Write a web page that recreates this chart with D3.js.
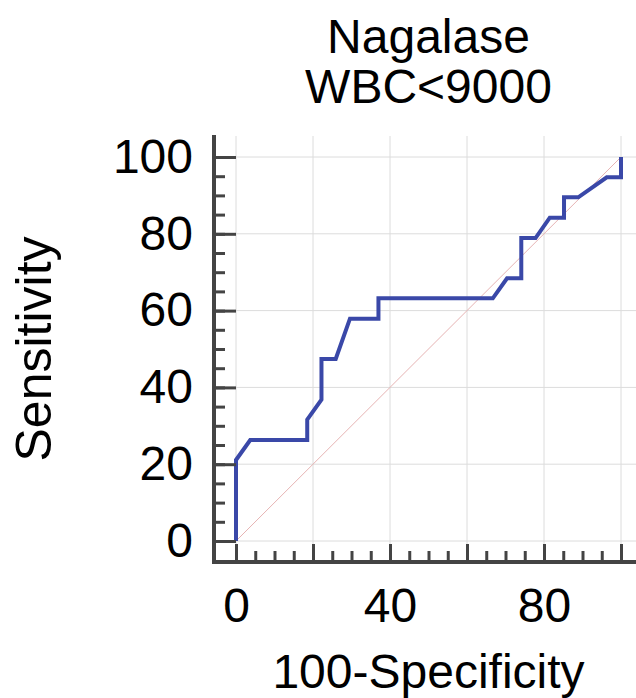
<!DOCTYPE html>
<html>
<head>
<meta charset="utf-8">
<script src="https://cdn.jsdelivr.net/npm/d3@7"></script>
<style>
  html, body { margin: 0; padding: 0; background: #fff; }
  svg { display: block; font-family: "Liberation Sans", Arial, sans-serif; }
</style>
</head>
<body>
<div id="chart"></div>
<script>
// ROC curve, Nagalase (WBC<9000)
const titleLines = ["Nagalase", "WBC<9000"];
const xLabel = "100-Specificity";
const yLabel = "Sensitivity";

// 100-specificity and sensitivity
const fpr = [0, 0, 3.7, 18.5, 18.5, 22.2, 22.2, 25.9, 29.6, 37.0, 37.0, 66.7, 70.4, 74.1, 74.1, 77.8, 81.5, 85.2, 85.2, 88.9, 96.3, 100, 100];
const sens = [0, 21.1, 26.3, 26.3, 31.6, 36.8, 47.4, 47.4, 57.9, 57.9, 63.2, 63.2, 68.4, 68.4, 78.9, 78.9, 84.2, 84.2, 89.5, 89.5, 94.7, 94.7, 100];

const majorTicks = [0, 20, 40, 60, 80, 100];
const minorTicks = d3.range(0, 101, 5);
const xTickLabels = [0, 40, 80];
const yTickLabels = [0, 20, 40, 60, 80, 100];

(function () {
  const WIDTH = 636, HEIGHT = 698;
  const AXIS_COLOR = "#444";
  const LINE_COLOR = "#3a48a8";
  const GRID_COLOR = "#dcdcdc";
  const DIAG_COLOR = "#e6b3b3";

  const yAxisX = 214;
  const xAxisY = 562;

  const x = d3.scaleLinear().domain([0, 100]).range([236, 621]);
  const y = d3.scaleLinear().domain([0, 100]).range([541, 157]);

  const svg = d3.select("#chart").append("svg")
    .attr("width", WIDTH)
    .attr("height", HEIGHT);

  // grid
  const grid = svg.append("g").attr("class", "grid");
  grid.selectAll(".vgrid").data(majorTicks).enter().append("line")
    .attr("x1", (d) => x(d)).attr("x2", (d) => x(d))
    .attr("y1", 136).attr("y2", xAxisY)
    .attr("stroke", GRID_COLOR).attr("stroke-width", 1);
  grid.selectAll(".hgrid").data(majorTicks).enter().append("line")
    .attr("x1", x(0)).attr("x2", WIDTH)
    .attr("y1", (d) => y(d)).attr("y2", (d) => y(d))
    .attr("stroke", GRID_COLOR).attr("stroke-width", 1);

  // diagonal reference
  svg.append("line")
    .attr("x1", x(0)).attr("y1", y(0))
    .attr("x2", x(100)).attr("y2", y(100))
    .attr("stroke", DIAG_COLOR).attr("stroke-width", 1);

  // ROC curve
  const points = fpr.map((f, i) => [f, sens[i]]);
  svg.append("path")
    .datum(points)
    .attr("fill", "none")
    .attr("stroke", LINE_COLOR)
    .attr("stroke-width", 4)
    .attr("stroke-linejoin", "miter")
    .attr("d", d3.line().x((d) => x(d[0])).y((d) => y(d[1])));

  // y axis: minor then major ticks, pointing into the plot
  const yMinor = svg.append("g").attr("transform", `translate(${yAxisX},0)`)
    .call(d3.axisLeft(y).tickValues(minorTicks).tickSizeInner(-11).tickSizeOuter(0).tickFormat(""));
  const yMajor = svg.append("g").attr("transform", `translate(${yAxisX},0)`)
    .call(d3.axisLeft(y).tickValues(majorTicks).tickSizeInner(-22).tickSizeOuter(0).tickPadding(21)
      .tickFormat((d) => yTickLabels.includes(d) ? d : ""));

  // x axis
  const xMinor = svg.append("g").attr("transform", `translate(0,${xAxisY})`)
    .call(d3.axisBottom(x).tickValues(minorTicks).tickSizeInner(-11).tickSizeOuter(0).tickFormat(""));
  const xMajor = svg.append("g").attr("transform", `translate(0,${xAxisY})`)
    .call(d3.axisBottom(x).tickValues(majorTicks).tickSizeInner(-18).tickSizeOuter(0).tickPadding(26)
      .tickFormat((d) => xTickLabels.includes(d) ? d : ""));

  [yMinor, yMajor, xMinor, xMajor].forEach((g) => {
    g.select(".domain").remove();
    g.selectAll(".tick line").attr("stroke", AXIS_COLOR).attr("stroke-width", 3);
    g.selectAll(".tick text")
      .attr("fill", "#000")
      .style("font-family", '"Liberation Sans", Arial, sans-serif')
      .style("font-size", "48px");
  });

  // axis lines
  svg.append("line")
    .attr("x1", yAxisX).attr("x2", yAxisX)
    .attr("y1", 135).attr("y2", xAxisY + 2)
    .attr("stroke", AXIS_COLOR).attr("stroke-width", 4);
  svg.append("line")
    .attr("x1", yAxisX - 2).attr("x2", WIDTH)
    .attr("y1", xAxisY).attr("y2", xAxisY)
    .attr("stroke", AXIS_COLOR).attr("stroke-width", 4);

  // title
  svg.append("g").selectAll("text").data(titleLines).enter().append("text")
    .attr("x", (x(0) + x(100)) / 2)
    .attr("y", (d, i) => 53 + i * 50)
    .attr("text-anchor", "middle")
    .style("font-size", "48px")
    .text((d) => d);

  // axis titles
  svg.append("text")
    .attr("x", (x(0) + x(100)) / 2)
    .attr("y", 688)
    .attr("text-anchor", "middle")
    .style("font-size", "48px")
    .text(xLabel);

  svg.append("text")
    .attr("transform", `translate(51,${(y(0) + y(100)) / 2}) rotate(-90)`)
    .attr("text-anchor", "middle")
    .style("font-size", "50px")
    .text(yLabel);
})();
</script>
</body>
</html>
